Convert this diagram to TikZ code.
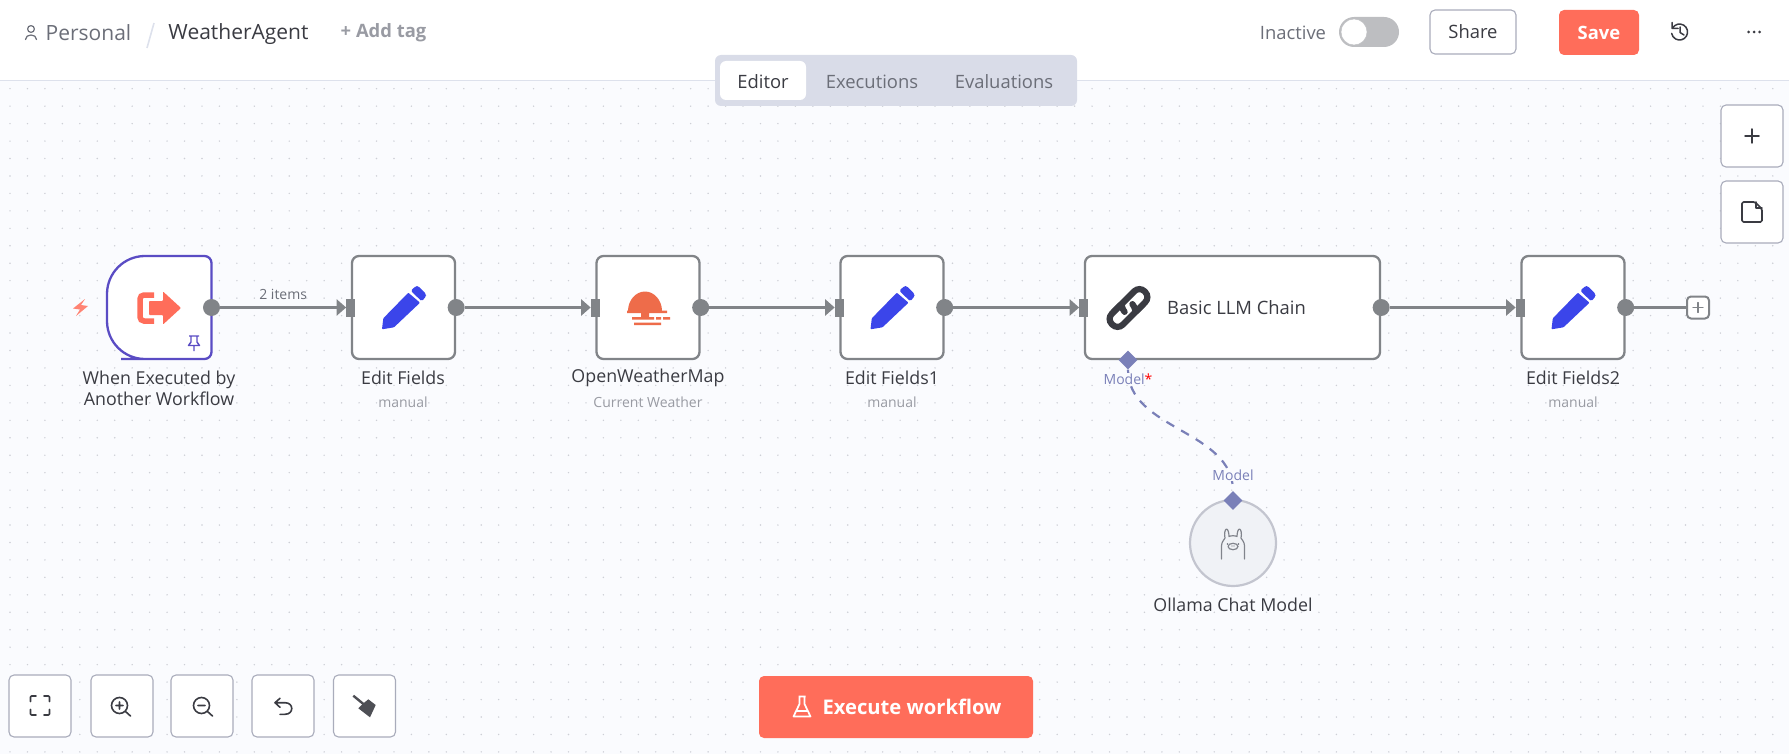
\documentclass[tikz,border=0pt]{standalone}
\usepackage{fontspec}
\setmainfont{Open Sans}
\usetikzlibrary{positioning}
\usetikzlibrary{arrows.meta}
\usetikzlibrary{shapes.geometric}
\definecolor{coral}{HTML}{FF6D5A}
\definecolor{canvasbg}{HTML}{FAFBFE}
\definecolor{griddot}{HTML}{CDCFD6}
\definecolor{hairline}{HTML}{DDE1EC}
\definecolor{wiregray}{HTML}{818488}
\definecolor{lilac}{HTML}{5A4CC4}
\definecolor{penblue}{HTML}{3B45EA}
\definecolor{sunorange}{HTML}{EE6C4A}
\definecolor{modelblue}{HTML}{7A80B8}
\definecolor{inkdark}{HTML}{3A3B42}
\definecolor{inkgray}{HTML}{6B6E78}
\definecolor{inklight}{HTML}{999BA3}
\definecolor{btnedge}{HTML}{A9ACBB}
\definecolor{tabbar}{HTML}{D9DCE8}
\definecolor{switchgray}{HTML}{BDBEC1}
\newcommand{\namefont}{\fontsize{17.8}{21}\selectfont}
\newcommand{\headfont}{\fontsize{21}{25}\selectfont}
\newcommand{\tabfont}{\fontsize{18.4}{22}\selectfont}
\newcommand{\subfont}{\fontsize{14}{17}\selectfont}
\tikzstyle{nodebox} = [draw=wiregray, line width=2.3, fill=white, rounded corners=7,
minimum height=103, inner sep=0]
\tikzstyle{wire} = [draw=wiregray, line width=2.4, -{Triangle[length=9.5,width=16]}]
\tikzset{
    penicon/.pic={
        \fill [penblue, rounded corners=0.8] (-21.5,21.8) -- (-20.2,10.8) -- (4.8,-14.8) -- (16.5,-4.8) -- (-9.5,19.8) -- cycle;
        \fill [penblue, rounded corners=1.5] (7.2,-16.8) -- (12.5,-21.5) -- (14.5,-21.5) -- (22.5,-13.5) -- (22.5,-11) -- (18.2,-6.2) -- cycle;
    },
    linkicon/.pic={
        \begin{scope}[rotate=45, scale=1.1, line width=6.2, draw=inkdark, line cap=round]
            \draw [rounded corners=7] (3,7) -- (21,7) -- (21,-7) -- (3,-7) .. controls (-1,-7) and (-5,-4) .. (-5,0);
            \draw [white, line width=9] (-1,6) -- (3,2);
            \draw [rounded corners=7] (-3,-7) -- (-21,-7) -- (-21,7) -- (-3,7) .. controls (1,7) and (5,4) .. (5,0);
        \end{scope}
    },
    plusicon/.pic={
        \draw [line cap=round] (-7,0) -- (7,0) (0,-7) -- (0,7);
    },
}
\begin{document}
\begin{tikzpicture}[x=1pt, y=-1pt, auto,
        namelabel/.style={font=\namefont, text=inkdark, align=center, inner sep=0},
        sublabel/.style={font=\subfont, text=inklight, inner sep=0},
        outdot/.style={circle, fill=wiregray, minimum size=17, inner sep=0},
        inport/.style={rectangle, fill=wiregray, minimum width=9, minimum height=18, inner sep=0},
        modelport/.style={diamond, fill=modelblue, minimum size=19, inner sep=0},
        modeltext/.style={font=\subfont, text=modelblue, fill=canvasbg, inner sep=1},
        toolbtn/.style={draw=btnedge, line width=1.1, fill=white, rounded corners=5, minimum width=62, minimum height=62, inner sep=0},
        topicon/.style={draw=inkdark, line width=1.5, line cap=round, line join=round},
        tabtext/.style={font=\tabfont, text=inkgray, inner sep=0}]
        \useasboundingbox (0,0) rectangle (1789,754);
        %% Canvas
        \fill [canvasbg] (0,80) rectangle (1789,754);
        \foreach \i in {0,...,102}
            \foreach \j in {0,...,38}
                \fill [griddot] ({10+17.453*\i},{88.7+17.453*\j}) circle (0.8);
        \draw [hairline, line width=1.3] (0,80.5) -- (1789,80.5);
        %% Header
        \node [font=\headfont, text=inkgray, inner sep=0] at (88.5,33) (Personal) {Personal};
        \draw [topicon, draw=inkgray, line width=1.2] (31,29) circle (3.4);
        \draw [topicon, draw=inkgray, line width=1.2] (25.5,39.5) .. controls (25.5,33.5) and (36.5,33.5) .. (36.5,39.5);
        \draw [hairline, line width=1.6] (154,23) -- (147,48);
        \node [font=\headfont, text=inkdark, inner sep=0] at (238.5,34) (Title) {WeatherAgent};
        \node [font=\tabfont\bfseries, text=inklight, inner sep=0] at (383.5,33) (AddTag) {+ Add tag};
        \node [fill=tabbar, rounded corners=6, minimum width=362, minimum height=51, inner sep=0] at (896,80.5) (Tabs) {};
        \node [fill=white, rounded corners=6, minimum width=86, minimum height=39, inner sep=0] at (763,80.5) (EditorTab) {};
        \node [tabtext, text=inkdark] at (763,82) (Editor) {Editor};
        \node [tabtext] at (872,82) (Executions) {Executions};
        \node [tabtext] at (1004,82) (Evaluations) {Evaluations};
        \node [tabtext] at (1293,33) (Inactive) {Inactive};
        \node [fill=switchgray, rounded corners=15, minimum width=60, minimum height=30, inner sep=0] at (1369,32) (Toggle) {};
        \node [circle, fill=white, draw=switchgray, minimum size=26, inner sep=0] at (1354,32) (Knob) {};
        \node [draw=btnedge, line width=1.1, fill=white, rounded corners=5, minimum width=86, minimum height=44, font=\tabfont, text=inkdark, inner sep=0] at (1473,32) (Share) {Share};
        \node [fill=coral, rounded corners=5, minimum width=80, minimum height=45, font=\tabfont\bfseries, text=white, inner sep=0] at (1599,32.5) (Save) {Save};
        \draw [topicon] (1672.6,28) arc [start angle=150, end angle=-170, radius=8pt];
        \draw [topicon] (1672,22.5) -- (1672,28.5) -- (1678,28.5) (1680,27) -- (1680,32.5) -- (1684,35);
        \foreach \x in {1748.5,1754,1759.5}
            \fill [inkdark] (\x,32) circle (1.5);
        %% Side buttons
        \node [toolbtn] at (1752,136) (ZoomIn) {};
        \node [toolbtn] at (1752,212) (Notes) {};
        \pic [topicon] at (ZoomIn) {plusicon};
        \draw [topicon, line width=1.7, rounded corners=1.5] (1750,202) -- (1742,202) -- (1742,222) -- (1762,222) -- (1762,209) -- (1755,202) -- (1750,202);
        \draw [topicon, line width=1.4] (1756,202) -- (1756,208) -- (1762,208);
        %% Vertices
        \draw [lilac, line width=2.3, fill=white, rounded corners=38] (159,256) -- (107,256) -- (107,359) -- (159,359)
            [rounded corners=7] -- (211.5,359) -- (211.5,256) -- cycle;
        \node [minimum width=104, minimum height=103, inner sep=0, outer sep=0] at (159.5,307.5) (Trigger) {};
        \node [nodebox, minimum width=103] at (403.5,307.5) (Fields) {};
        \node [nodebox, minimum width=103] at (648,307.5) (Weather) {};
        \node [nodebox, minimum width=103] at (892,307.5) (FieldsA) {};
        \node [nodebox, minimum width=295] at (1232.5,307.5) (Chain) {};
        \node [nodebox, minimum width=103] at (1573,307.5) (FieldsB) {};
        \node [circle, draw=btnedge!70, line width=2.2, fill=hairline!45, minimum size=86, inner sep=0] at (1233,543) (Ollama) {};
        \node [draw=wiregray, line width=2, fill=white, rounded corners=4, minimum size=22, inner sep=0] at (1698,307.5) (AddNode) {};
        %% Ports
        \node [outdot] at (Trigger.east) (TriggerOut) {};
        \node [inport] at (Fields.west) (FieldsIn) {};
        \node [outdot] at (Fields.east) (FieldsOut) {};
        \node [inport] at (Weather.west) (WeatherIn) {};
        \node [outdot] at (Weather.east) (WeatherOut) {};
        \node [inport] at (FieldsA.west) (FieldsAIn) {};
        \node [outdot] at (FieldsA.east) (FieldsAOut) {};
        \node [inport] at (Chain.west) (ChainIn) {};
        \node [outdot] at (Chain.east) (ChainOut) {};
        \node [inport] at (FieldsB.west) (FieldsBIn) {};
        \node [outdot] at (FieldsB.east) (FieldsBOut) {};
        \node [modelport] at (1128,360) (ChainModel) {};
        \node [modelport] at (1233,500.5) (OllamaModel) {};
        %% Arcs
        \path [wire] (TriggerOut) to node [midway, above, font=\subfont, text=inkgray, inner sep=7] (ItemsLabel) {2 items} (FieldsIn);
        \path [wire] (FieldsOut) to (WeatherIn);
        \path [wire] (WeatherOut) to (FieldsAIn);
        \path [wire] (FieldsAOut) to (ChainIn);
        \path [wire] (ChainOut) to (FieldsBIn);
        \path [draw=wiregray, line width=2.2] (FieldsBOut) to (AddNode);
        \draw [modelblue, line width=2.2, dash pattern=on 9 off 8] (ChainModel.south) .. controls (1128,430) and (1233,430) .. (OllamaModel.north);
        \node [modeltext] at (1128,379) (ChainModelLabel) {Model\textcolor{red}{*}};
        \node [modeltext] at (1233,475) (OllamaModelLabel) {Model};
        %% Labels
        \node [namelabel] at (159,388.5) (TriggerName) {When Executed by\\Another Workflow};
        \node [namelabel] at (403,378) (FieldsName) {Edit Fields};
        \node [sublabel] at (403,402) (FieldsSub) {manual};
        \node [namelabel] at (648,378) (WeatherName) {OpenWeatherMap};
        \node [sublabel] at (648,402) (WeatherSub) {Current Weather};
        \node [namelabel] at (892,378) (FieldsAName) {Edit Fields1};
        \node [sublabel] at (892,402) (FieldsASub) {manual};
        \node [namelabel, anchor=west, font=\tabfont] at (1167,308) (ChainName) {Basic LLM Chain};
        \node [namelabel] at (1573,378) (FieldsBName) {Edit Fields2};
        \node [sublabel] at (1573,402) (FieldsBSub) {manual};
        \node [namelabel] at (1233,605) (OllamaName) {Ollama Chat Model};
        %% Icons
        \draw [coral, line width=5.5, rounded corners=4] (154,295) -- (140,295) -- (140,321) -- (154,321);
        \fill [coral, rounded corners=0.8] (149,301) -- (163,301) -- (163,291.5) -- (181,308) -- (163,324.5) -- (163,315) -- (149,315) -- cycle;
        \fill [coral!85] (85,299) -- (73,308.5) -- (80,309.5) -- (76,316) -- (88,306) -- (81,305) -- cycle;
        \draw [lilac, line width=1.4, line join=round] (189,336) -- (199,336) (191,336) -- (191,342) -- (188.5,345.5) -- (199.5,345.5) -- (197,342) -- (197,336) (194,345.5) -- (194,351);
        \pic at (Fields) {penicon};
        \pic at (FieldsA) {penicon};
        \pic at (FieldsB) {penicon};
        \pic at (1128.5,308) {linkicon};
        \fill [sunorange] (628,311) .. controls (628,300) and (636,291.5) .. (645,291.5) .. controls (654,291.5) and (662,300) .. (662,311) -- cycle;
        \fill [sunorange] (627,310.5) rectangle (667,313) (632,317) rectangle (654,319.5) (656,317) rectangle (661,319.5) (663,317) rectangle (670,319.5) (634,322.5) rectangle (661,325) (641,313) rectangle (649,317);
        \draw [wiregray, line width=1.3, line cap=round] (1693,307.5) -- (1703,307.5) (1698,302.5) -- (1698,312.5);
        %% Llama
        \begin{scope}[shift={(1233,543)}, draw=inkgray!85, line width=1.2, line join=round, line cap=round]
            \draw (-11.5,16) -- (-11.5,3) .. controls (-11.5,-1) and (-9,-3) .. (-8,-5) .. controls (-9,-9) and (-8,-14) .. (-6.5,-14) .. controls (-5,-14) and (-4,-10) .. (-4,-6.5)
                .. controls (-2,-7.5) and (2,-7.5) .. (4,-6.5) .. controls (4,-10) and (5,-14) .. (6.5,-14) .. controls (8,-14) and (9,-9) .. (8,-5) .. controls (9,-3) and (11.5,-1) .. (11.5,3) -- (11.5,16);
            \draw (0,3.5) ellipse (5 and 3.2);
            \fill [inkgray] (-5.5,1) circle (0.9) (5.5,1) circle (0.9) (-1,3) circle (0.6) (1,3) circle (0.6);
        \end{scope}
        %% Toolbar
        \node [toolbtn] at (40,706) (FitBtn) {};
        \node [toolbtn] at (122,706) (InBtn) {};
        \node [toolbtn] at (202,706) (OutBtn) {};
        \node [toolbtn] at (283,706) (UndoBtn) {};
        \node [toolbtn] at (364.5,706) (TidyBtn) {};
        \draw [topicon, line width=1.6, rounded corners=1] (36,696) -- (30.5,696) -- (30.5,701.5) (44,696) -- (49.5,696) -- (49.5,701.5) (30.5,709.5) -- (30.5,715) -- (36,715) (49.5,709.5) -- (49.5,715) -- (44,715);
        \draw [topicon, line width=1.6] (119.5,705.5) circle (8) (125.5,711.5) -- (130.5,716) (116,705.5) -- (123,705.5) (119.5,702) -- (119.5,709);
        \draw [topicon, line width=1.6] (201.5,705.5) circle (8) (207.5,711.5) -- (212.5,716) (198,705.5) -- (205,705.5);
        \draw [topicon, line width=1.6] (280,698.3) -- (275,702.7) -- (280,707.3) (275,702.7) -- (285,702.7) .. controls (294,702.7) and (294,714.3) .. (285,714.3) -- (280,714.3);
        \draw [inkdark!90, line width=2.4] (353.3,695.7) -- (364,704.5);
        \fill [inkdark!90] (362.7,704) -- (368.3,699.3) -- (375.7,705) -- (370,717.3) -- (358.3,708.3) -- cycle;
        \node [fill=coral, rounded corners=5, minimum width=274, minimum height=62, font=\fontsize{20.2}{24}\selectfont\bfseries, text=white, inner sep=0] at (896,707) (Execute) {\hspace{32pt}Execute workflow};
        \draw [white, line width=1.7, line join=round] (798.5,696.5) -- (805.5,696.5) (799.5,696.5) -- (799.5,704) -- (793.5,716.5) -- (810.5,716.5) -- (804.5,704) -- (804.5,696.5) (796,711) -- (808,711);
    \end{tikzpicture}
\end{document}
